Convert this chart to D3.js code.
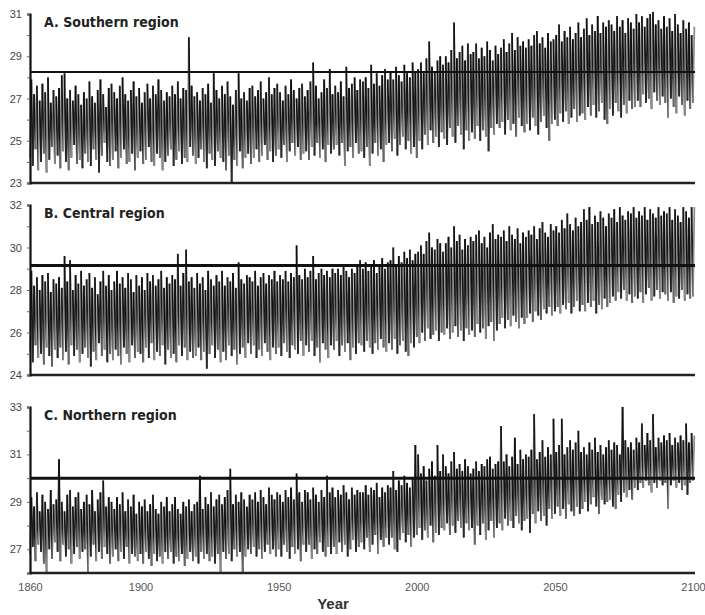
<html>
<head>
  <script src="https://d3js.org/d3.v7.min.js"></script>
  <style>
    body { margin: 0; background: #fff; }
    text { font-family: "Liberation Sans", Arial, sans-serif; }
  </style>
</head>
<body>
<svg id="chart" width="705" height="615"></svg>
<script>
// yearly summer peak / winter trough, 1860..2100
const years = d3.range(1860, 2101);

const aHi = [
  27.9,27.2,27.6,26.9,27.7,27.3,28.0,26.8,27.4,27.1, 27.5,28.1,28.2,27.0,27.4,26.9,27.6,27.2,26.7,27.3,
  27.0,27.8,27.1,26.8,27.4,27.9,27.2,26.6,27.5,27.7, 27.3,27.0,27.6,28.0,27.2,26.9,27.4,27.8,27.1,27.5,
  26.8,27.3,27.7,27.0,27.6,27.2,27.9,27.4,26.9,27.3, 27.1,27.6,27.2,27.8,27.0,27.5,27.4,29.9,27.6,27.1,
  27.3,26.9,27.5,27.2,27.7,26.8,28.2,27.4,27.0,27.6, 27.2,27.8,27.1,26.7,27.4,28.2,27.0,27.3,26.9,27.5,
  27.6,27.1,27.4,27.8,27.0,27.3,28.0,27.2,27.5,27.7, 27.3,26.9,27.6,27.2,27.9,27.4,27.0,27.5,27.7,27.1,
  27.4,27.8,28.7,27.6,27.0,27.3,27.9,27.5,28.4,27.2, 27.6,27.3,27.8,27.1,28.5,27.5,27.7,28.0,27.4,27.9,
  27.8,28.0,27.5,28.6,27.7,28.2,27.6,28.1,28.4,27.9, 28.3,27.9,28.5,28.1,27.8,28.6,28.2,28.0,28.7,28.3,
  28.4,28.7,28.2,28.9,29.7,28.5,28.3,28.8,29.0,28.6, 29.0,28.7,29.3,30.6,28.9,29.2,29.5,28.8,29.6,29.1,
  29.2,29.6,28.9,29.4,29.0,29.7,29.3,28.8,29.5,29.1, 29.4,29.8,29.2,29.6,30.1,29.3,29.9,29.5,29.7,29.4,
  29.8,29.5,30.0,30.2,29.6,29.9,29.4,30.1,29.7,29.8, 30.0,30.5,29.7,30.2,29.9,30.4,29.8,30.1,30.6,29.9,
  30.3,30.8,30.0,30.5,30.2,30.9,30.1,30.6,30.4,30.7, 30.5,30.2,30.9,30.4,30.7,30.1,30.8,30.6,30.3,31.0,
  30.6,30.9,30.4,30.8,31.0,31.1,30.5,30.7,30.3,30.9, 30.4,30.8,30.2,31.0,30.5,30.1,30.7,30.3,30.6,30.0,
  30.4
];
const aLo = [
  24.2,23.8,24.6,23.6,24.0,24.4,23.5,24.1,24.7,23.9, 24.3,23.7,24.5,24.0,23.6,24.2,24.8,23.9,24.1,23.7,
  24.4,24.0,23.8,24.6,24.1,23.5,24.3,24.9,24.0,23.8, 24.1,24.5,23.7,24.2,24.6,23.9,24.0,24.4,23.6,24.2,
  24.5,23.9,24.1,24.7,24.0,23.8,24.4,24.2,23.6,24.0, 24.3,24.6,23.8,24.1,24.5,23.9,24.2,24.0,24.7,24.3,
  23.9,24.2,24.6,24.0,23.7,24.4,24.1,23.8,24.5,24.2, 24.0,23.6,24.3,23.0,24.1,23.8,24.5,23.7,24.2,24.4,
  23.9,24.2,24.6,24.0,24.3,24.8,24.1,24.5,24.0,24.3, 24.6,24.2,24.8,24.0,24.5,24.9,24.3,24.7,24.1,24.4,
  24.5,24.1,24.7,24.3,24.9,24.2,24.6,24.0,24.8,24.4, 24.6,24.8,24.3,24.9,23.8,24.5,24.7,24.2,24.9,24.4,
  24.5,24.2,24.7,23.8,24.4,24.9,24.3,24.6,24.0,24.8, 24.9,24.5,25.1,24.3,24.8,25.2,24.6,25.0,24.4,24.7,
  24.2,25.0,24.6,25.3,24.8,25.5,24.9,25.2,24.7,25.4, 25.1,24.8,25.6,25.2,24.9,25.7,25.3,24.6,25.5,25.0,
  25.4,25.1,25.7,25.0,25.5,25.2,24.5,25.6,25.3,25.8, 25.6,25.9,25.3,26.0,25.5,25.8,25.2,26.1,25.7,25.4,
  25.8,25.5,26.1,25.7,25.3,25.9,26.2,25.6,25.0,25.8, 26.0,25.7,26.3,25.9,26.4,25.8,26.1,26.5,25.9,26.2,
  26.3,26.0,26.6,26.2,26.7,26.1,26.4,26.8,26.0,25.8, 26.5,26.2,26.8,26.4,26.1,26.7,26.3,26.9,26.5,26.6,
  26.9,26.6,27.2,26.8,27.0,26.5,27.3,26.9,26.7,27.1, 26.8,26.1,27.0,26.6,26.3,27.1,26.7,26.2,26.9,26.5,
  26.8
];
const bHi = [
  28.9,28.2,28.6,28.0,28.7,28.4,28.8,27.9,28.5,28.3, 28.6,28.1,29.6,28.4,29.4,28.0,28.7,28.3,28.9,28.2,
  28.5,28.8,28.1,28.6,27.8,28.4,28.9,28.2,28.7,28.0, 28.4,28.9,28.3,28.6,28.1,28.8,28.5,27.9,28.7,28.2,
  28.6,28.0,28.8,28.4,28.7,28.2,28.5,28.9,28.1,28.6, 28.3,28.7,28.5,29.7,28.2,28.8,29.9,28.4,28.6,28.1,
  28.8,28.3,28.6,28.0,28.9,28.5,28.2,28.7,28.4,28.9, 28.2,28.6,28.4,28.8,28.1,29.3,28.5,28.3,28.7,28.6,
  28.4,28.9,28.2,28.6,28.8,28.3,28.7,28.5,28.9,28.4, 28.7,28.5,28.9,28.4,28.8,28.6,30.1,28.7,28.5,29.0,
  28.6,28.9,29.6,28.5,28.8,29.0,28.7,28.9,28.6,29.0, 28.8,29.0,28.7,29.1,28.9,28.6,29.0,28.8,29.2,29.4,
  29.0,29.3,28.9,29.2,29.4,28.8,29.1,29.5,29.0,29.3, 29.4,30.0,29.2,29.6,29.3,29.8,29.5,29.9,29.4,29.7,
  29.8,30.1,29.7,30.3,30.7,30.0,29.9,30.4,30.2,29.8, 30.2,30.5,30.0,31.0,30.3,30.6,29.9,30.4,30.1,30.5,
  30.3,30.6,30.8,30.2,30.5,30.0,30.7,31.1,30.4,30.6, 30.5,30.8,30.3,31.0,30.6,30.4,30.9,30.2,30.7,30.5,
  30.8,30.6,31.0,30.4,30.9,31.2,30.7,30.5,31.1,30.8, 31.0,30.7,31.3,30.9,31.6,31.1,30.8,31.4,31.0,31.2,
  31.8,31.3,31.9,31.1,31.5,31.2,31.7,31.4,31.0,31.6, 31.4,31.8,31.2,31.9,31.5,31.3,31.7,31.6,31.9,31.4,
  31.7,31.5,31.9,31.3,31.8,31.6,31.4,31.9,31.5,31.7, 31.6,31.9,31.3,31.8,31.5,31.2,31.9,31.7,31.4,31.9,
  31.9
];
const bLo = [
  25.1,24.6,25.4,24.8,25.0,24.5,25.3,24.9,24.4,25.2, 24.8,25.3,24.7,25.1,24.5,25.4,24.9,25.2,24.6,25.0,
  25.3,24.8,24.4,25.1,24.7,25.5,24.9,25.2,24.6,25.0, 24.7,25.2,24.9,24.5,25.3,25.0,24.6,25.4,24.8,25.1,
  25.0,24.6,25.3,24.8,25.5,24.7,25.1,24.9,25.4,24.5, 25.2,24.8,25.0,24.6,25.4,24.9,25.3,24.7,25.1,24.8,
  24.9,25.3,24.7,25.1,24.3,25.0,25.4,24.8,25.2,24.6, 25.1,24.7,25.4,24.9,25.2,24.5,25.0,25.3,24.8,25.5,
  25.0,25.4,24.8,25.2,24.9,25.5,25.1,24.7,25.3,25.0, 25.3,24.9,25.5,25.1,24.8,25.4,25.2,25.0,25.6,24.9,
  25.4,25.1,25.6,24.9,25.3,24.6,25.5,25.2,24.8,25.4, 25.2,25.6,24.9,25.4,25.1,25.5,24.7,25.3,25.0,25.5,
  25.4,25.1,25.6,25.3,25.0,25.5,25.2,25.7,25.3,25.1, 25.5,25.2,25.7,25.0,25.4,25.6,25.1,24.9,25.5,25.3,
  25.8,25.5,26.0,25.6,26.2,25.7,25.9,26.1,25.6,26.0, 25.9,26.2,25.7,26.0,26.3,25.8,26.1,25.6,26.2,25.9,
  26.1,25.8,26.4,26.0,26.2,25.7,26.3,26.5,25.6,26.1, 26.4,26.7,26.2,26.6,26.3,26.8,26.5,26.2,26.7,26.4,
  26.7,26.9,26.5,27.0,26.8,26.6,27.1,26.9,27.2,26.8, 27.0,27.2,26.9,27.3,27.1,27.4,26.9,27.2,27.5,27.0,
  27.3,27.0,27.4,27.2,27.5,26.9,27.3,27.1,27.6,27.2, 27.4,27.7,27.5,27.9,27.6,28.0,27.5,27.8,27.4,27.7,
  27.6,27.9,27.4,27.8,28.1,27.5,27.7,28.0,27.6,27.9, 27.8,27.5,27.9,27.4,27.7,27.6,28.0,27.5,27.8,27.6,
  27.7
];
const cHi = [
  29.2,28.8,29.4,28.6,29.3,29.0,28.7,29.5,28.9,29.1, 30.8,29.0,28.6,29.3,29.5,28.8,29.2,29.4,28.7,29.0,
  29.3,28.9,29.5,28.6,29.1,29.4,29.9,28.8,29.2,29.0, 28.7,29.2,28.9,29.4,28.6,29.1,28.8,29.3,28.5,29.0,
  28.8,29.1,28.6,28.9,29.3,28.7,28.5,29.0,28.8,29.2, 28.6,28.9,29.2,28.7,28.5,29.0,28.8,29.1,28.6,28.9,
  29.0,30.1,28.7,29.2,28.9,29.4,28.8,29.1,29.3,28.9, 29.2,29.5,30.4,28.9,29.3,29.0,29.4,29.1,28.8,29.3,
  29.1,29.4,29.0,29.5,29.2,28.9,29.6,29.3,29.1,29.4, 29.3,29.0,29.5,29.2,29.6,29.1,30.2,29.4,29.0,29.5,
  29.4,29.1,29.6,29.3,29.0,29.5,29.2,30.1,29.4,29.6, 29.2,29.5,29.3,29.7,29.4,29.1,29.6,29.3,29.5,29.4,
  29.4,29.7,29.3,29.6,29.5,29.8,29.2,29.6,29.4,29.7, 29.6,30.3,29.5,29.9,29.7,30.1,29.8,29.6,30.0,31.4,
  31.0,30.2,30.5,29.9,30.4,30.7,30.1,31.4,30.3,31.0, 30.5,30.2,30.7,31.1,30.4,30.6,30.3,30.8,30.5,30.2,
  30.4,30.7,30.3,30.6,30.5,30.8,30.9,30.4,30.6,30.7, 32.2,30.7,31.0,30.5,30.9,31.7,30.6,31.2,30.8,31.0,
  30.9,31.2,32.7,30.8,31.1,31.6,30.9,31.3,31.0,32.5, 31.1,31.4,32.5,31.0,31.3,31.6,31.2,31.5,32.0,31.1,
  31.3,31.0,31.5,31.2,31.7,31.1,31.4,31.0,31.3,31.6, 31.2,31.5,31.4,31.0,33.0,31.6,31.3,31.5,31.2,31.7,
  31.5,32.3,31.4,31.9,31.6,32.7,31.3,31.7,31.5,31.8, 31.6,31.9,31.4,31.7,31.5,31.8,31.6,32.3,31.5,31.9,
  31.8
];
const cLo = [
  26.8,27.1,26.5,27.2,26.9,26.4,26.0,27.0,26.6,27.3, 26.9,26.5,27.2,26.7,27.0,26.4,26.8,27.1,26.6,26.9,
  27.0,26.0,26.7,27.2,26.5,26.9,26.6,27.1,26.8,26.4, 26.7,27.0,26.5,26.9,26.6,27.1,26.4,26.8,26.7,26.5,
  26.8,26.4,26.9,26.6,26.3,26.8,26.5,26.7,26.4,26.9, 26.6,26.9,26.4,26.7,26.5,26.8,26.3,26.6,26.9,26.5,
  26.7,26.4,26.9,26.6,26.8,26.5,26.7,26.4,26.8,26.0, 26.9,26.6,26.8,26.5,27.0,26.7,26.9,26.0,26.7,27.0,
  26.8,27.1,26.7,27.0,26.6,26.9,27.2,26.8,27.0,26.7, 27.0,26.7,27.2,26.9,26.6,27.1,26.8,27.0,26.5,27.2,
  26.9,27.2,26.6,27.0,26.8,27.3,26.9,26.7,27.1,26.8, 27.1,26.8,27.3,26.9,27.2,26.7,27.0,27.4,26.9,27.1,
  27.3,27.0,27.5,26.9,27.2,27.6,26.8,27.4,27.1,27.5, 27.2,27.5,27.0,26.9,27.4,27.7,27.3,27.6,27.1,27.5,
  27.6,27.9,27.4,27.8,27.5,28.0,27.3,27.7,27.6,27.9, 27.8,28.1,27.6,28.0,27.7,28.2,27.9,27.5,28.1,27.8,
  27.9,27.2,28.0,27.6,28.1,27.4,27.8,28.2,27.5,27.9, 28.1,27.8,28.3,28.0,28.2,27.9,28.4,28.1,27.8,28.2,
  28.3,27.7,28.5,28.1,28.6,28.2,28.4,28.0,28.7,28.3, 28.5,28.8,28.4,28.7,28.3,28.9,28.6,28.4,28.8,28.5,
  28.7,29.0,28.6,28.9,29.2,28.8,28.5,29.1,28.9,29.0, 29.1,28.8,28.7,29.3,29.0,29.4,29.2,29.5,29.1,29.6,
  29.5,29.8,29.6,29.9,29.7,29.4,29.8,29.6,29.9,29.7, 29.8,28.7,29.7,29.9,29.6,29.8,29.5,29.7,29.3,29.8,
  29.9
];

const panels = [
  { title: "A.  Southern region", hi: aHi, lo: aLo, dom: [23, 31], top: 14, bottom: 183, ticks: [23, 25, 27, 29, 31], threshold: 28.25, thw: 2 },
  { title: "B.  Central region",  hi: bHi, lo: bLo, dom: [24, 32], top: 205, bottom: 375, ticks: [24, 26, 28, 30, 32], threshold: 29.15, thw: 3 },
  { title: "C.  Northern region", hi: cHi, lo: cLo, dom: [26, 33], top: 407, bottom: 573, ticks: [27, 29, 31, 33], threshold: 30.0, thw: 3 }
];
const xTicks = [1860, 1900, 1950, 2000, 2050, 2100];

const svg = d3.select("#chart");
const x = d3.scaleLinear().domain([1860, 2100]).range([30, 693]);
const shade = ["#8a8a8a", "#111", "#2a2a2a", "#111", "#6a6a6a", "#1a1a1a"];

panels.forEach(p => {
  const y = d3.scaleLinear().domain(p.dom).range([p.bottom, p.top]);
  const g = svg.append("g");

  // zigzag: winter trough then summer peak each year
  const pts = [];
  years.forEach((yr, i) => {
    pts.push([yr, p.lo[i]]);
    pts.push([yr + 0.5, p.hi[i]]);
  });
  const segs = d3.pairs(pts);
  g.selectAll("line.seg").data(segs)
    .join("line")
    .attr("class", "seg")
    .attr("x1", d => x(d[0][0]))
    .attr("y1", d => y(d[0][1]))
    .attr("x2", d => x(d[1][0]))
    .attr("y2", d => y(d[1][1]))
    .attr("stroke", (d, i) => shade[i % shade.length])
    .attr("stroke-width", 1.7);

  // threshold line
  g.append("line")
    .attr("x1", x(1860)).attr("x2", 695)
    .attr("y1", y(p.threshold)).attr("y2", y(p.threshold))
    .attr("stroke", "#111").attr("stroke-width", p.thw);

  // bottom line
  g.append("line")
    .attr("x1", x(1860)).attr("x2", 695)
    .attr("y1", p.bottom).attr("y2", p.bottom)
    .attr("stroke", "#222").attr("stroke-width", 2.5);

  // left axis
  const ax = d3.axisLeft(y)
    .tickValues(d3.range(p.dom[0], p.dom[1] + 1))
    .tickSize(3)
    .tickFormat(d => p.ticks.includes(d) ? d : "");
  const axg = g.append("g").attr("transform", `translate(${x(1860)},0)`).call(ax);
  axg.select(".domain").attr("stroke", "#111").attr("stroke-width", 2.2);
  axg.selectAll(".tick line").attr("stroke", "#666");
  axg.selectAll(".tick text")
    .attr("x", -8)
    .attr("fill", "#444")
    .style("font-size", "11px")
    .style("font-family", "'Liberation Sans Narrow', 'Liberation Sans', sans-serif");

  g.append("text")
    .attr("x", 44).attr("y", p.top + 13)
    .attr("fill", "#222")
    .style("font-family", "'DejaVu Sans Condensed', 'DejaVu Sans', sans-serif")
    .style("font-weight", "bold")
    .style("font-size", "14px")
    .text(p.title);
});

// x axis labels
const xa = d3.axisBottom(x).tickValues(xTicks).tickSize(0).tickFormat(d3.format("d"));
const xg = svg.append("g").attr("transform", "translate(0,578)").call(xa);
xg.select(".domain").remove();
xg.selectAll(".tick text")
  .attr("dy", "0.9em")
  .attr("fill", "#555")
  .style("font-size", "11px")
  .style("font-family", "'Liberation Sans Narrow', 'Liberation Sans', sans-serif");

svg.append("text")
  .attr("x", 333).attr("y", 609)
  .attr("text-anchor", "middle")
  .attr("fill", "#333")
  .style("font-weight", "bold")
  .style("font-size", "15px")
  .text("Year");
</script>
</body>
</html>
